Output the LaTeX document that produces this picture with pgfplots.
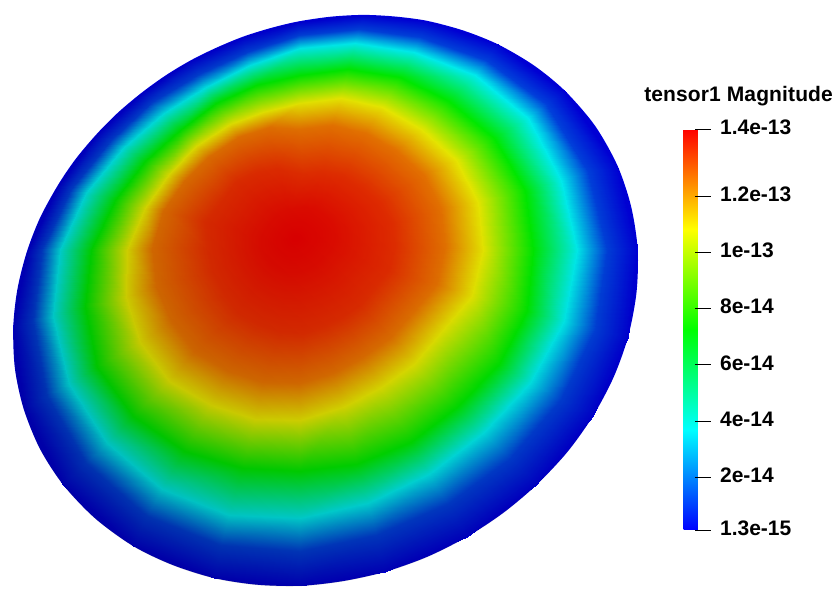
\documentclass[border=0pt]{standalone}
\usepackage{pgfplots}
\pgfplotsset{compat=1.18}
\usepackage{fontspec}
\setmainfont{Liberation Sans}
\newfontfamily\labf[LetterSpace=0.6]{Liberation Sans Bold}
\usetikzlibrary{fadings}
\tikzfading[name=lit, left color=transparent!74, right color=transparent!93]
\pgfplotsset{colormap={pv}{rgb255=(0,0,255) rgb255=(0,255,255) rgb255=(0,255,0) rgb255=(255,255,0) rgb255=(255,0,0)}}
\pgfplotsset{colormap={pvdisk}{rgb255=(0,0,228) rgb255=(0,255,255) rgb255=(0,255,0) rgb255=(255,255,0) rgb255=(255,0,0)}}
\begin{document}
\begin{tikzpicture}[x=1pt,y=1pt]
\path[use as bounding box] (0,0) rectangle (833pt,600pt);
\begin{axis}[
  at={(0pt,0pt)}, anchor=south west,
  scale only axis, width=833pt, height=600pt,
  xmin=0, xmax=833, ymin=0, ymax=600, y dir=reverse,
  axis line style={draw=none}, xtick=\empty, ytick=\empty,
  clip=false,
  colormap name=pv,
  point meta min=0.13, point meta max=14.38,
  colorbar,
  colorbar style={
    at={(675pt,70pt)}, anchor=south west,
    scale only axis, width=16pt, height=401pt,
    axis line style={draw=none},
    ymin=0.13, ymax=14.38,
    ytick={0.13,2,4,6,8,10,12,14.38},
    yticklabels={1.3e-15,2e-14,4e-14,6e-14,8e-14,1e-13,1.2e-13,1.4e-13},
    ytick pos=right,
    yticklabel pos=right,
    tick align=outside,
    major tick length=16pt,
    y tick style={black, line width=0.9pt, xshift=-5pt},
    yticklabel style={font=\fontsize{21}{21}\selectfont\bfseries, anchor=west, xshift=1pt, yshift=2pt},
    title={tensor1 Magnitude},
    title style={font=\fontsize{21}{21}\labf, at={(3.44,1)}, anchor=base, yshift=21.5pt},
    /pgf/number format/assume math mode=true,
  },
]
% rim fill, smooth outline
\addplot[smooth cycle, fill={rgb,255:red,0;green,0;blue,228}, draw=none, forget plot] coordinates {
(298,21.5)(330.8,16.7)(363.6,14.9)(395.8,16.6)(427.4,20.9)(463.6,30.6)(498,44.4)(533.6,65.2)(564.9,90.8)(594.9,125.6)(617.4,165.5)(631.1,206.4)(637.7,249.8)(636.4,293.3)(628,337)(613.6,377.2)(593.3,415.5)(567.4,451.9)(536.1,485.2)(503.3,512.8)(467.4,536.5)(427.4,556.7)(385.2,571.7)(342.7,581.1)(299.9,585.8)(256.1,584.6)(213.6,577.9)(171.8,564.6)(133,545.9)(95.2,518.4)(63.4,485)(39.9,448.7)(23.6,408.6)(14.9,368.3)(13.3,326.6)(17.4,289.3)(26.7,252.2)(39.9,218.1)(57.7,185.5)(75.8,158.8)(97,133.7)(118.3,112.3)(141.8,92.6)(165.8,75.3)(190.8,60.3)(216.4,47.7)(243,36.7)(270.5,28.1)};
% scalar field on contour rings
\addplot[surf, shader=interp, colormap name=pvdisk, mesh/cols=25, point meta=explicit, forget plot] coordinates {
(298,21.5)[0.13](363.6,14.9)[0.13](427.4,20.9)[0.13](498,44.4)[0.13](564.9,90.8)[0.13](617.4,165.5)[0.13](637.7,249.8)[0.13](628,337)[0.13](593.3,415.5)[0.13](536.1,485.2)[0.13](467.4,536.5)[0.13](385.2,571.7)[0.13](299.9,585.8)[0.13](213.6,577.9)[0.13](133,545.9)[0.13](63.4,485)[0.13](23.6,408.6)[0.13](13.3,326.6)[0.13](26.7,252.2)[0.13](57.7,185.5)[0.13](97,133.7)[0.13](141.8,92.6)[0.13](190.8,60.3)[0.13](243,36.7)[0.13](298,21.5)[0.13]

(299,35)[1.09](359,29)[1.09](420,37)[1.09](486,60)[1.09](546,104)[1.09](588,172)[1.09](607,250)[1.09](595,329)[1.09](561,399)[1.09](509,459)[1.09](447,504)[1.09](376,535)[1.09](300,551)[1.09](221,545)[1.09](147,516)[1.09](86,463)[1.09](47,396)[1.09](33,321)[1.09](42,250)[1.09](71,189)[1.09](110,141)[1.09](152,102)[1.09](199,74)[1.09](247,52)[1.09](299,35)[1.09]

(300,48)[3.69](355,43)[3.69](414,52)[3.69](475,75)[3.69](528,118)[3.69](561,180)[3.69](577,250)[3.69](564,321)[3.69](530,383)[3.69](483,433)[3.69](429,474)[3.69](368,503)[3.69](300,518)[3.69](229,515)[3.69](162,489)[3.69](107,443)[3.69](69,384)[3.69](53,316)[3.69](60,250)[3.69](86,193)[3.69](123,148)[3.69](164,113)[3.69](206,87)[3.69](250,65)[3.69](300,48)[3.69]

(300,75)[7.25](348,69)[7.25](400,77)[7.25](449,101)[7.25](494,138)[7.25](525,190)[7.25](533,250)[7.25](527,311)[7.25](499,364)[7.25](457,407)[7.25](411,442)[7.25](357,464)[7.25](300,471)[7.25](242,468)[7.25](184,451)[7.25](133,416)[7.25](97,367)[7.25](85,307)[7.25](91,250)[7.25](115,200)[7.25](145,161)[7.25](180,130)[7.25](216,103)[7.25](256,85)[7.25](300,75)[7.25]

(300,103)[10.82](341,98)[10.82](382,107)[10.82](421,129)[10.82](456,160)[10.82](478,202)[10.82](483,250)[10.82](472,296)[10.82](442,331)[10.82](414,364)[10.82](380,388)[10.82](343,407)[10.82](300,420)[10.82](255,419)[10.82](211,405)[10.82](169,381)[10.82](140,342)[10.82](126,297)[10.82](127,250)[10.82](145,208)[10.82](169,174)[10.82](196,146)[10.82](230,124)[10.82](263,112)[10.82](300,103)[10.82]

(299,129)[12.6](332,125)[12.6](365,133)[12.6](396,150)[12.6](424,175)[12.6](441,209)[12.6](445,247)[12.6](437,284)[12.6](413,312)[12.6](390,338)[12.6](363,357)[12.6](333,373)[12.6](299,383)[12.6](263,382)[12.6](228,371)[12.6](194,352)[12.6](171,321)[12.6](156,286)[12.6](152,248)[12.6](163,211)[12.6](184,181)[12.6](208,157)[12.6](238,137)[12.6](269,127)[12.6](299,129)[12.6]

(303,174)[13.67](323,172)[13.67](344,176)[13.67](363,187)[13.67](381,202)[13.67](392,224)[13.67](394,248)[13.67](389,271)[13.67](374,288)[13.67](360,305)[13.67](343,317)[13.67](324,326)[13.67](303,333)[13.67](280,332)[13.67](258,325)[13.67](237,313)[13.67](223,294)[13.67](212,271)[13.67](207,247)[13.67](205,222)[13.67](222,200)[13.67](236,182)[13.67](256,172)[13.67](277,168)[13.67](303,174)[13.67]

(296,209)[14.2](304,208)[14.2](312,209)[14.2](320,214)[14.2](327,220)[14.2](332,228)[14.2](333,238)[14.2](330,247)[14.2](324,254)[14.2](319,261)[14.2](312,266)[14.2](305,269)[14.2](296,272)[14.2](287,272)[14.2](278,269)[14.2](270,264)[14.2](264,256)[14.2](261,247)[14.2](261,238)[14.2](265,230)[14.2](270,223)[14.2](275,217)[14.2](282,213)[14.2](289,210)[14.2](296,209)[14.2]

(295,238)[14.38](295,238)[14.38](295,238)[14.38](295,238)[14.38](295,238)[14.38](295,238)[14.38](295,238)[14.38](295,238)[14.38](295,238)[14.38](295,238)[14.38](295,238)[14.38](295,238)[14.38](295,238)[14.38](295,238)[14.38](295,238)[14.38](295,238)[14.38](295,238)[14.38](295,238)[14.38](295,238)[14.38](295,238)[14.38](295,238)[14.38](295,238)[14.38](295,238)[14.38](295,238)[14.38](295,238)[14.38]
};
% lighting
\addplot[smooth cycle, fill=black, draw=none, forget plot, path fading=lit, fit fading=true, fading angle=45] coordinates {
(298,21.5)(330.8,16.7)(363.6,14.9)(395.8,16.6)(427.4,20.9)(463.6,30.6)(498,44.4)(533.6,65.2)(564.9,90.8)(594.9,125.6)(617.4,165.5)(631.1,206.4)(637.7,249.8)(636.4,293.3)(628,337)(613.6,377.2)(593.3,415.5)(567.4,451.9)(536.1,485.2)(503.3,512.8)(467.4,536.5)(427.4,556.7)(385.2,571.7)(342.7,581.1)(299.9,585.8)(256.1,584.6)(213.6,577.9)(171.8,564.6)(133,545.9)(95.2,518.4)(63.4,485)(39.9,448.7)(23.6,408.6)(14.9,368.3)(13.3,326.6)(17.4,289.3)(26.7,252.2)(39.9,218.1)(57.7,185.5)(75.8,158.8)(97,133.7)(118.3,112.3)(141.8,92.6)(165.8,75.3)(190.8,60.3)(216.4,47.7)(243,36.7)(270.5,28.1)};
\end{axis}
\end{tikzpicture}
\end{document}
